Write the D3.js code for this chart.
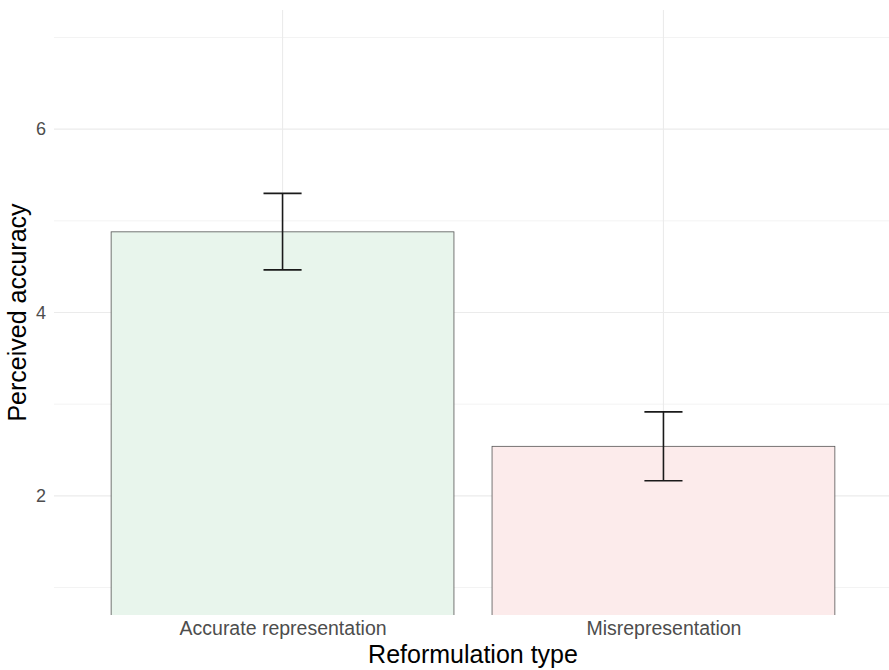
<!DOCTYPE html>
<html>
<head>
<meta charset="utf-8">
<script src="https://cdn.jsdelivr.net/npm/d3@7"></script>
<style>
  body { margin: 0; background: #fff; }
  svg { display: block; font-family: "Liberation Sans", Arial, sans-serif; }
</style>
</head>
<body>
<div id="chart"></div>
<script>
var categories = ["Accurate representation", "Misrepresentation"];
var means = [4.88, 2.54];
var lower = [4.465, 2.164];
var upper = [5.30, 2.916];
var fills = ["#e8f5ec", "#fcebeb"];
var majorTicks = [2, 4, 6];
var minorTicks = [1, 3, 5, 7];

var width = 889,
    height = 670;

var margin = { top: 10, right: -3, bottom: 55, left: 54 };

var svg = d3.select('#chart').append('svg')
    .attr('width', width)
    .attr('height', height);

var x = d3.scalePoint()
    .domain(categories)
    .range([margin.left, width - margin.right])
    .padding(0.6);

var y = d3.scaleLinear()
    .domain([0.7, 7.3])
    .range([height - margin.bottom, margin.top]);

var step = x.step();

var grid = svg.append('g');

grid.selectAll('line.minor')
    .data(minorTicks).enter()
    .append('line')
    .attr('class', 'minor')
    .attr('x1', margin.left)
    .attr('x2', width - margin.right)
    .attr('y1', function (d) { return y(d); })
    .attr('y2', function (d) { return y(d); })
    .attr('stroke', '#ebebeb')
    .attr('stroke-width', 0.6);

grid.selectAll('line.major')
    .data(majorTicks).enter()
    .append('line')
    .attr('class', 'major')
    .attr('x1', margin.left)
    .attr('x2', width - margin.right)
    .attr('y1', function (d) { return y(d); })
    .attr('y2', function (d) { return y(d); })
    .attr('stroke', '#ebebeb')
    .attr('stroke-width', 1.1);

grid.selectAll('line.vert')
    .data(categories).enter()
    .append('line')
    .attr('class', 'vert')
    .attr('x1', function (d) { return x(d); })
    .attr('x2', function (d) { return x(d); })
    .attr('y1', y(0.7))
    .attr('y2', y(7.3))
    .attr('stroke', '#ebebeb')
    .attr('stroke-width', 1.1);

// bars
svg.selectAll('rect.bar')
    .data(categories).enter()
    .append('rect')
    .attr('class', 'bar')
    .attr('x', function (d) { return x(d) - step * 0.45; })
    .attr('width', step * 0.9)
    .attr('y', function (d, i) { return y(means[i]); })
    .attr('height', function (d, i) { return y(0.7) - y(means[i]) + 2; })
    .attr('fill', function (d, i) { return fills[i]; })
    .attr('stroke', '#555')
    .attr('stroke-width', 0.8);

// cover bar bottoms below the panel
svg.append('rect')
    .attr('x', 0)
    .attr('y', y(0.7))
    .attr('width', width)
    .attr('height', margin.bottom)
    .attr('fill', '#fff');

// error bars
var err = svg.selectAll('g.err')
    .data(categories).enter()
    .append('g')
    .attr('class', 'err')
    .attr('stroke', '#1a1a1a')
    .attr('stroke-width', 1.6);

err.append('line')
    .attr('x1', function (d) { return x(d); })
    .attr('x2', function (d) { return x(d); })
    .attr('y1', function (d, i) { return y(upper[i]); })
    .attr('y2', function (d, i) { return y(lower[i]); });

err.append('line')
    .attr('x1', function (d) { return x(d) - step * 0.05; })
    .attr('x2', function (d) { return x(d) + step * 0.05; })
    .attr('y1', function (d, i) { return y(upper[i]); })
    .attr('y2', function (d, i) { return y(upper[i]); });

err.append('line')
    .attr('x1', function (d) { return x(d) - step * 0.05; })
    .attr('x2', function (d) { return x(d) + step * 0.05; })
    .attr('y1', function (d, i) { return y(lower[i]); })
    .attr('y2', function (d, i) { return y(lower[i]); });

// axes (tick labels only, theme_minimal style)
var yAxis = svg.append('g')
    .attr('transform', 'translate(' + (margin.left - 4) + ',0)')
    .call(d3.axisLeft(y).tickValues(majorTicks).tickFormat(d3.format('d')).tickSize(0).tickPadding(4));
yAxis.select('.domain').remove();
yAxis.attr('font-size', null).attr('font-family', null);
yAxis.selectAll('text')
    .attr('fill', '#4d4d4d')
    .style('font-size', '18px');

var xAxis = svg.append('g')
    .attr('transform', 'translate(0,' + (y(0.7) + 2) + ')')
    .call(d3.axisBottom(x).tickSize(0).tickPadding(4));
xAxis.select('.domain').remove();
xAxis.attr('font-size', null).attr('font-family', null);
xAxis.selectAll('text')
    .attr('fill', '#4d4d4d')
    .style('font-size', '19.5px');

svg.append('text')
    .attr('x', (margin.left + width - margin.right) / 2)
    .attr('y', 663)
    .attr('text-anchor', 'middle')
    .attr('fill', '#000')
    .style('font-size', '25px')
    .text('Reformulation type');

svg.append('text')
    .attr('transform', 'translate(26,' + ((y(0.7) + y(7.3)) / 2) + ')rotate(-90)')
    .attr('text-anchor', 'middle')
    .attr('fill', '#000')
    .style('font-size', '25px')
    .text('Perceived accuracy');
</script>
</body>
</html>
